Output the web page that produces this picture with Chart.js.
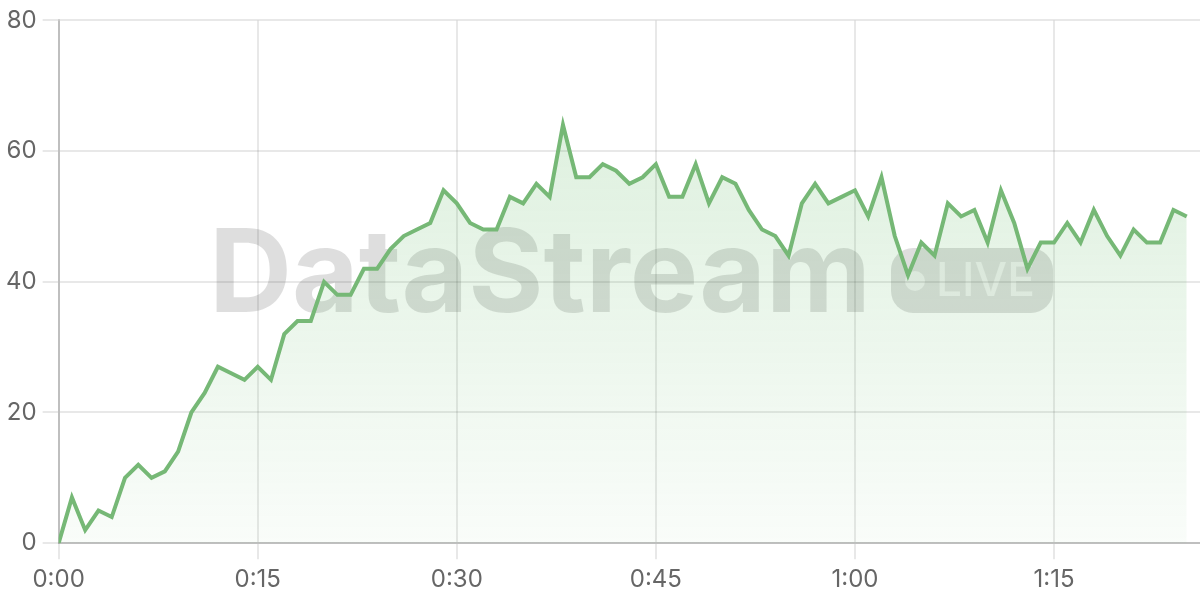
<!DOCTYPE html>
<html>
<head>
<meta charset="utf-8">
<title>DataStream live</title>
<script src="https://cdn.jsdelivr.net/npm/chart.js@4/dist/chart.umd.min.js"></script>
<style>
  html, body { margin: 0; padding: 0; background: #fff; }
  #wrap { width: 1200px; height: 600px; position: relative; }
</style>
</head>
<body>
<div id="wrap"><canvas id="streamChart"></canvas></div>
<script>
// elapsed seconds of each sample and the value read at that moment
const seconds = [
  0, 1, 2, 3, 4, 5, 6, 7, 8, 9, 10, 11, 12, 13, 14, 15, 16, 17, 18, 19,
  20, 21, 22, 23, 24, 25, 26, 27, 28, 29, 30, 31, 32, 33, 34, 35, 36, 37, 38, 39,
  40, 41, 42, 43, 44, 45, 46, 47, 48, 49, 50, 51, 52, 53, 54, 55, 56, 57, 58, 59,
  60, 61, 62, 63, 64, 65, 66, 67, 68, 69, 70, 71, 72, 73, 74, 75, 76, 77, 78, 79,
  80, 81, 82, 83, 84, 85
];
const viewers = [
  0, 7, 2, 5, 4, 10, 12, 10, 11, 14, 20, 23, 27, 26, 25, 27, 25, 32, 34, 34,
  40, 38, 38, 42, 42, 45, 47, 48, 49, 54, 52, 49, 48, 48, 53, 52, 55, 53, 64, 56,
  56, 58, 57, 55, 56, 58, 53, 53, 58, 52, 56, 55, 51, 48, 47, 44, 52, 55, 52, 53,
  54, 50, 56, 47, 41, 46, 44, 52, 50, 51, 46, 54, 49, 42, 46, 46, 49, 46, 51, 47,
  44, 48, 46, 46, 51, 50
];
const xTicks = [0, 15, 30, 45, 60, 75];
const yTicks = [0, 20, 40, 60, 80];

function fmtTime(s) {
  return Math.floor(s / 60) + ':' + String(s % 60).padStart(2, '0');
}

// grey "DataStream LIVE" mark, painted before the grid and the data
const watermark = {
  id: 'watermark',
  beforeDraw(chart) {
    const ctx = chart.ctx;
    ctx.save();
    ctx.fillStyle = 'rgba(0,0,0,0.13)';
    ctx.font = '700 115px Inter';
    ctx.textBaseline = 'alphabetic';
    ctx.fillText('DataStream', 209, 312);
    ctx.beginPath();
    ctx.roundRect(891, 248, 162, 65, 22);
    ctx.fill();
    ctx.fillStyle = 'rgba(255,255,255,0.55)';
    ctx.beginPath();
    ctx.arc(915, 281, 10, 0, Math.PI * 2);
    ctx.fill();
    ctx.font = '500 46px Inter';
    ctx.fillText('LIVE', 936, 296);
    ctx.restore();
  }
};

const ctx = document.getElementById('streamChart').getContext('2d');

new Chart(ctx, {
  type: 'line',
  data: {
    datasets: [{
      label: 'Viewers',
      data: seconds.map((s, i) => ({ x: s, y: viewers[i] })),
      borderColor: '#76b876',
      borderWidth: 4,
      tension: 0,
      pointRadius: 0,
      fill: 'origin',
      backgroundColor: c => {
        const area = c.chart.chartArea;
        if (!area) return 'rgba(76,175,80,0.1)';
        const g = c.chart.ctx.createLinearGradient(0, area.top, 0, area.bottom);
        g.addColorStop(0, 'rgba(76,175,80,0.22)');
        g.addColorStop(1, 'rgba(76,175,80,0.03)');
        return g;
      }
    }]
  },
  options: {
    responsive: true,
    maintainAspectRatio: false,
    devicePixelRatio: 1,
    animation: false,
    layout: { padding: { top: 8, right: 0, bottom: 0, left: 0 } },
    plugins: {
      legend: { display: false },
      tooltip: { enabled: false }
    },
    scales: {
      x: {
        type: 'linear',
        min: 0,
        max: 86,
        afterBuildTicks: axis => { axis.ticks = xTicks.map(v => ({ value: v })); },
        grid: { color: 'rgba(0,0,0,0.09)', lineWidth: 2, tickLength: 16 },
        border: { color: 'rgba(0,0,0,0.18)', width: 2 },
        ticks: {
          color: '#666',
          font: { family: 'Inter', size: 24 },
          padding: 6,
          maxRotation: 0,
          callback: v => fmtTime(v)
        }
      },
      y: {
        min: 0,
        max: 80,
        afterBuildTicks: axis => { axis.ticks = yTicks.map(v => ({ value: v })); },
        grid: { color: 'rgba(0,0,0,0.09)', lineWidth: 2, tickLength: 16 },
        border: { color: 'rgba(0,0,0,0.18)', width: 2 },
        ticks: {
          color: '#666',
          font: { family: 'Inter', size: 24 },
          padding: 6
        }
      }
    }
  },
  plugins: [watermark]
});
</script>
</body>
</html>
